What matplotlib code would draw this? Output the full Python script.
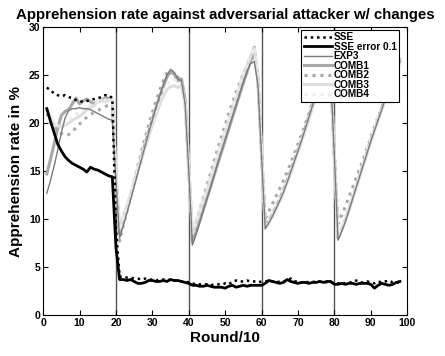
import matplotlib
matplotlib.use("Agg")
import matplotlib.pyplot as plt

plt.rcParams['font.family'] = ['Liberation Sans', 'DejaVu Sans']
plt.rcParams['font.weight'] = 'bold'

# x positions (Round/10)
rounds = list(range(1, 99))

sse = [23.7, 23.4, 23.1, 22.9, 22.8, 22.9, 22.7, 22.6, 22.4, 22.3, 22.2, 22.3, 22.4, 22.5, 22.6, 22.7, 22.9, 22.9, 22.6, 9.0,
       4.0, 4.0, 3.9, 3.9, 3.8, 3.8, 3.7, 3.8, 3.7, 3.7, 3.6, 3.7, 3.7, 3.6, 3.7, 3.6, 3.6, 3.5, 3.5, 3.4,
       3.3, 3.2, 3.2, 3.2, 3.2, 3.1, 3.2, 3.2, 3.2, 3.3, 3.2, 3.5, 3.6, 3.5, 3.5, 3.6, 3.5, 3.5, 3.4, 3.5,
       3.5, 3.6, 3.5, 3.4, 3.5, 3.5, 3.6, 3.8, 3.5, 3.5, 3.4, 3.5, 3.4, 3.5, 3.4, 3.5, 3.5, 3.4, 3.4, 3.3,
       3.3, 3.4, 3.3, 3.4, 3.4, 3.6, 3.4, 3.4, 3.5, 3.4, 3.3, 3.5, 3.4, 3.5, 3.6, 3.4, 3.4, 3.4]

sse_err = [21.5, 20.2, 19.0, 17.8, 17.1, 16.5, 16.1, 15.8, 15.6, 15.4, 15.2, 14.9, 15.4, 15.2, 15.1, 14.9, 14.7, 14.5, 14.4, 7.0,
           3.7, 3.7, 3.6, 3.7, 3.5, 3.3, 3.3, 3.4, 3.6, 3.6, 3.5, 3.5, 3.6, 3.5, 3.7, 3.6, 3.6, 3.5, 3.4, 3.3,
           3.1, 3.1, 3.0, 3.0, 3.1, 3.0, 2.9, 2.9, 2.9, 2.8, 3.0, 3.1, 2.9, 3.0, 3.1, 3.0, 3.1, 3.1, 3.1, 3.1,
           3.3, 3.6, 3.5, 3.4, 3.3, 3.4, 3.7, 3.5, 3.4, 3.3, 3.4, 3.4, 3.3, 3.4, 3.4, 3.5, 3.4, 3.5, 3.5, 3.2,
           3.2, 3.3, 3.2, 3.3, 3.3, 3.2, 3.3, 3.3, 3.3, 3.2, 2.8, 3.1, 3.3, 3.2, 3.1, 3.2, 3.4, 3.5]

exp3 = [12.7, 14.0, 15.5, 17.2, 19.0, 20.5, 21.3, 21.5, 21.5, 21.6, 21.5, 21.5, 21.4, 21.2, 21.0, 20.8, 20.6, 20.4, 20.3, 14.0,
        8.0, 9.3, 10.6, 12.0, 13.4, 14.8, 16.2, 17.6, 19.0, 20.3, 21.6, 22.8, 24.0, 25.0, 25.6, 25.3, 24.6, 24.4, 22.0, 15.0,
        7.3, 8.4, 9.6, 10.9, 12.1, 13.3, 14.6, 15.9, 17.1, 18.3, 19.5, 20.7, 21.9, 23.1, 24.3, 25.4, 26.2, 26.4, 24.0, 16.5,
        9.0, 9.6, 10.3, 11.1, 11.9, 12.8, 13.8, 14.9, 16.0, 17.1, 18.2, 19.4, 20.6, 21.8, 23.0, 24.3, 25.6, 26.8, 25.0, 16.5,
        7.8, 8.7, 9.7, 10.9, 12.1, 13.3, 14.5, 15.7, 16.9, 18.1, 19.2, 20.3, 21.4, 22.5, 23.5, 24.5, 25.5, 26.4]

comb1 = [14.7, 16.2, 17.8, 19.5, 20.8, 21.2, 21.4, 22.0, 22.6, 22.0, 22.3, 22.5, 22.2, 22.0, 22.2, 22.4, 22.6, 22.6, 22.4, 14.5,
         8.5, 9.8, 11.0, 12.3, 13.7, 15.0, 16.4, 17.8, 19.1, 20.4, 21.6, 22.7, 23.8, 24.8, 25.3, 25.1, 24.4, 24.6, 22.5, 15.5,
         7.6, 8.7, 9.8, 11.0, 12.2, 13.4, 14.6, 15.8, 17.0, 18.2, 19.4, 20.6, 21.8, 23.0, 24.2, 25.3, 26.5, 27.3, 24.5, 16.8,
         9.2, 9.8, 10.5, 11.3, 12.1, 13.0, 14.0, 15.0, 16.1, 17.2, 18.3, 19.5, 20.7, 21.9, 23.1, 24.4, 25.7, 27.0, 25.0, 16.5,
         8.0, 8.9, 9.9, 11.0, 12.2, 13.4, 14.6, 15.8, 17.0, 18.2, 19.3, 20.4, 21.5, 22.6, 23.6, 24.6, 25.6, 26.6]

comb2 = [21.0, 20.2, 19.6, 19.2, 18.9, 18.7, 18.8, 19.1, 19.5, 19.9, 20.3, 20.6, 20.9, 21.1, 21.3, 21.5, 21.7, 21.9, 22.0, 14.5,
         7.7, 9.3, 10.8, 12.4, 14.0, 15.5, 17.0, 18.4, 19.8, 21.1, 22.3, 23.4, 24.4, 25.2, 25.5, 25.0, 24.8, 24.2, 22.0, 15.0,
         8.3, 9.6, 10.9, 12.2, 13.5, 14.8, 16.1, 17.4, 18.6, 19.8, 21.0, 22.1, 23.2, 24.2, 25.1, 26.0, 26.9, 27.9, 24.5, 17.0,
         10.0, 10.8, 11.6, 12.4, 13.2, 14.0, 14.9, 15.8, 16.8, 17.8, 18.8, 19.9, 21.0, 22.1, 23.3, 24.5, 25.7, 27.0, 25.0, 16.8,
         9.5, 10.4, 11.3, 12.3, 13.3, 14.3, 15.3, 16.3, 17.4, 18.5, 19.6, 20.6, 21.6, 22.6, 23.6, 24.6, 25.6, 26.5]

comb3 = [21.5, 20.6, 19.9, 19.7, 19.6, 19.8, 20.0, 20.3, 20.5, 20.7, 21.0, 21.4, 21.6, 21.8, 22.3, 22.4, 22.2, 22.4, 22.5, 15.0,
         9.0, 10.2, 11.4, 12.6, 13.8, 15.0, 16.2, 17.4, 18.6, 19.8, 20.9, 21.9, 22.8, 23.5, 23.8, 23.9, 23.7, 23.9, 22.0, 15.5,
         8.6, 9.7, 10.8, 12.0, 13.1, 14.3, 15.5, 16.7, 17.9, 19.1, 20.3, 21.5, 22.7, 23.9, 25.0, 26.0, 27.0, 27.8, 24.8, 17.0,
         9.0, 9.6, 10.3, 11.1, 11.9, 12.8, 13.8, 14.8, 15.9, 17.0, 18.1, 19.2, 20.4, 21.6, 22.8, 24.1, 25.4, 26.8, 25.0, 16.5,
         8.2, 9.0, 10.0, 11.1, 12.2, 13.3, 14.5, 15.7, 16.9, 18.1, 19.2, 20.3, 21.4, 22.4, 23.4, 24.4, 25.4, 26.3]

comb4 = [21.2, 20.4, 19.9, 19.8, 19.8, 20.0, 20.3, 20.6, 20.9, 21.2, 21.4, 21.7, 21.9, 22.1, 22.2, 22.3, 22.4, 22.5, 22.4, 15.0,
         8.8, 10.0, 11.3, 12.6, 13.9, 15.2, 16.5, 17.8, 19.1, 20.3, 21.4, 22.4, 23.3, 24.0, 24.4, 24.5, 24.3, 24.2, 22.0, 15.5,
         8.5, 9.6, 10.8, 12.0, 13.2, 14.4, 15.6, 16.8, 18.0, 19.2, 20.4, 21.6, 22.8, 24.0, 25.1, 26.1, 27.1, 27.9, 24.8, 17.0,
         9.3, 9.9, 10.6, 11.4, 12.2, 13.1, 14.1, 15.1, 16.2, 17.3, 18.4, 19.5, 20.7, 21.9, 23.1, 24.4, 25.7, 27.1, 25.2, 16.6,
         8.5, 9.3, 10.3, 11.4, 12.5, 13.6, 14.8, 16.0, 17.2, 18.4, 19.5, 20.6, 21.7, 22.7, 23.7, 24.7, 25.7, 26.7]

change_points = [20, 40, 60, 80]

fig = plt.figure(figsize=(4.45, 3.56), dpi=100)
ax = fig.add_axes([0.097, 0.115, 0.818, 0.809])

for cp in change_points:
    ax.axvline(cp, color='#555555', lw=1.0, zorder=1)

ax.plot(rounds, exp3, color='#7a7a7a', lw=1.0, label='EXP3', zorder=3)
ax.plot(rounds, comb1, color='#a8a8a8', lw=2.2, label='COMB1', zorder=2)
ax.plot(rounds, comb2, color='#a8a8a8', lw=2.2, ls=(0, (1, 1.6)), label='COMB2', zorder=2)
ax.plot(rounds, comb3, color='#dedede', lw=2.2, label='COMB3', zorder=2)
ax.plot(rounds, comb4, color='#ececec', lw=2.2, ls=(0, (1, 1.6)), label='COMB4', zorder=2)
ax.plot(rounds, sse, color='black', lw=1.8, ls=(0, (1, 1.5)), label='SSE', zorder=5)
ax.plot(rounds, sse_err, color='black', lw=2.0, label='SSE error 0.1', zorder=4)

handles, labels = ax.get_legend_handles_labels()
order = [5, 6, 0, 1, 2, 3, 4]
leg = ax.legend([handles[i] for i in order], [labels[i] for i in order],
                loc='upper right', bbox_to_anchor=(0.978, 0.99), fontsize=7.2,
                handlelength=2.8, handletextpad=0.2, labelspacing=-0.05,
                borderpad=0.25, borderaxespad=0.0, fancybox=False, framealpha=1)
leg.get_frame().set_edgecolor('black')
leg.get_frame().set_linewidth(0.8)
for t in leg.get_texts():
    t.set_fontweight('bold')

ax.set_xlim(0, 100)
ax.set_ylim(0, 30)
ax.set_xticks(range(0, 101, 10))
ax.set_yticks(range(0, 31, 5))
ax.tick_params(direction='in', top=True, right=True, length=3.5, width=0.8, labelsize=7.5, pad=2)
for lab in ax.get_xticklabels() + ax.get_yticklabels():
    lab.set_fontweight('bold')

ax.set_xlabel('Round/10', fontsize=11, fontweight='bold', labelpad=2)
ax.set_ylabel('Apprehension rate in %', fontsize=11, fontweight='bold', labelpad=4)
ax.set_title('Apprehension rate against adversarial attacker w/ changes', fontsize=10.8, fontweight='bold', pad=6)

fig.savefig('out.png', dpi=100)
